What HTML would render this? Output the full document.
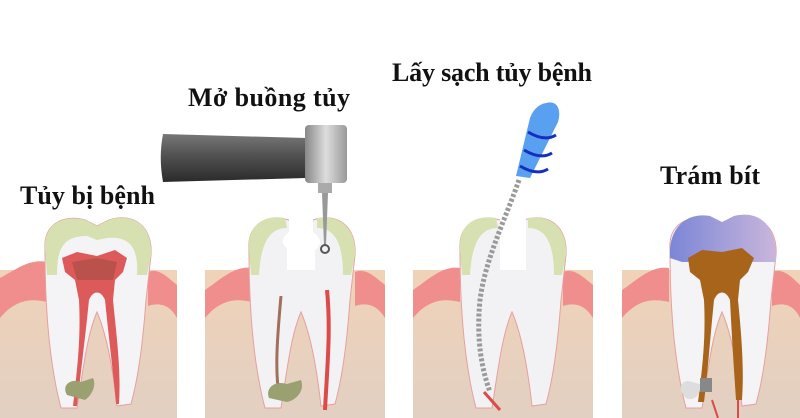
<!DOCTYPE html>
<html><head><meta charset="utf-8"><style>
html,body{margin:0;padding:0;background:#fff;width:800px;height:418px;overflow:hidden}
svg{display:block}
text{font-family:"Liberation Serif",serif;font-weight:bold;fill:#111}
</style></head><body>
<svg width="800" height="418" viewBox="0 0 800 418">
<defs>
<linearGradient id="tan" x1="0" y1="0" x2="0" y2="1"><stop offset="0" stop-color="#f0d2b8"/><stop offset="1" stop-color="#e2d0c2"/></linearGradient>
<linearGradient id="bar" x1="0" y1="0" x2="0" y2="1"><stop offset="0" stop-color="#777"/><stop offset="0.4" stop-color="#555"/><stop offset="1" stop-color="#2a2a2a"/></linearGradient>
<linearGradient id="head" x1="0" y1="0" x2="1" y2="0"><stop offset="0" stop-color="#888"/><stop offset="0.5" stop-color="#ddd"/><stop offset="1" stop-color="#999"/></linearGradient>
<linearGradient id="cap" x1="0" y1="0" x2="1" y2="0"><stop offset="0" stop-color="#7b86d6"/><stop offset="1" stop-color="#c9b6dc"/></linearGradient>
<path id="toothOuter" d="M-52,250 C-54,224 -34,214 -12,220 L0,226 L12,220 C36,212 56,226 54,255 L49,300 C46,340 42,375 34,404 L20,406 C16,370 10,335 0,312 C-10,335 -14,370 -20,408 L-36,408 C-46,370 -52,320 -52,250Z"/>
</defs>

<g transform="translate(0,0)"><rect x="0" y="270" width="177" height="148" fill="url(#tan)"/><path d="M0,278 C15,270 30,258 47,262 L47,302 C30,298 15,300 0,318Z" fill="#f08e8e"/><path d="M177,285 C165,275 158,268 148,272 L148,306 C160,302 170,305 177,318Z" fill="#f08e8e"/></g>
<g transform="translate(205,0)"><rect x="0" y="270" width="180" height="148" fill="url(#tan)"/><path d="M0,290 C15,280 30,265 47,268 L47,302 C30,298 15,300 0,318Z" fill="#f08e8e"/><path d="M180,285 C168,275 160,268 150,272 L150,306 C162,302 172,305 180,318Z" fill="#f08e8e"/></g>
<g transform="translate(413,0)"><rect x="0" y="270" width="180" height="148" fill="url(#tan)"/><path d="M0,290 C15,280 30,265 47,268 L47,302 C30,298 15,300 0,318Z" fill="#f08e8e"/><path d="M180,285 C168,275 160,268 150,272 L150,306 C162,302 172,305 180,318Z" fill="#f08e8e"/></g>
<g transform="translate(622,0)"><rect x="0" y="270" width="178" height="148" fill="url(#tan)"/><path d="M0,290 C15,280 30,265 47,268 L47,302 C30,298 15,300 0,318Z" fill="#f08e8e"/><path d="M178,285 C168,275 160,268 150,272 L150,306 C162,302 172,305 178,318Z" fill="#f08e8e"/></g>

<!-- tooth 1 -->
<g transform="translate(97,0)">
<use href="#toothOuter" fill="#f4f4f6" stroke="#e6a0a0" stroke-width="1"/>
<path d="M-52,250 C-54,224 -34,214 -12,220 L0,226 L12,220 C36,212 56,226 54,255 L50,275 L40,275 C42,245 30,236 10,238 L0,240 L-10,236 C-35,236 -40,250 -40,275 L-50,275Z" fill="#d6e0b0"/>
<path d="M-35,258 L-20,252 L0,256 L18,250 L30,258 L26,272 L18,280 L16,300 C20,340 24,370 22,404 L19,404 C16,370 12,340 8,300 C4,290 -4,290 -8,300 C-12,340 -16,370 -20,406 L-24,406 C-20,370 -16,340 -18,300 L-22,280 L-32,272Z" fill="#dd5a5a"/>
<path d="M-25,262 L0,258 L20,262 L16,280 L-20,280Z" fill="#b9524a"/>
<path d="M-30,395 C-36,385 -26,378 -16,382 L-4,378 C0,386 -6,396 -12,400Z" fill="#9aa070"/>
</g>

<!-- tooth 2 -->
<g transform="translate(301,0)">
<use href="#toothOuter" fill="#f2f2f5" stroke="#e6a0a0" stroke-width="1"/>
<path d="M-12,216 L-12,232 C-20,238 -20,244 -14,248 L-14,270 L14,270 L14,250 C22,244 20,238 12,232 L12,216Z" fill="#fff"/>
<path d="M-52,250 C-54,226 -38,214 -16,218 L-14,228 C-30,228 -40,240 -42,275 L-50,275Z" fill="#d6e0b0"/>
<path d="M54,255 C56,228 38,214 16,218 L16,228 C32,228 42,240 42,275 L50,275Z" fill="#d6e0b0"/>
<path d="M-20,296 C-24,340 -26,370 -22,395" stroke="#a0705a" stroke-width="3" fill="none"/>
<path d="M26,290 C30,330 26,370 24,410" stroke="#dd4a4a" stroke-width="4" fill="none"/>
<path d="M-32,398 C-36,388 -26,380 -14,384 L0,380 C4,390 -4,400 -14,402Z" fill="#9aa070"/>
</g>
<path d="M163,134 L306,138 L306,178 L163,182 C160,165 160,150 163,134Z" fill="url(#bar)"/>
<rect x="305" y="125" width="42" height="58" rx="4" fill="url(#head)"/>
<rect x="318" y="183" width="14" height="10" fill="#aaa"/>
<path d="M322,193 L328,193 L326,245 L324,245Z" fill="#999"/>
<circle cx="325" cy="249" r="4" fill="none" stroke="#555" stroke-width="2"/>

<!-- tooth 3 -->
<g transform="translate(512,0)">
<use href="#toothOuter" fill="#f2f2f5" stroke="#e6a0a0" stroke-width="1"/>
<path d="M-12,216 L-12,270 L14,270 L14,216Z" fill="#fff"/>
<path d="M-52,250 C-54,226 -38,214 -16,218 L-14,228 C-30,228 -40,240 -42,275 L-50,275Z" fill="#d6e0b0"/>
<path d="M54,255 C56,228 38,214 16,218 L16,228 C32,228 42,240 42,275 L50,275Z" fill="#d6e0b0"/>
<path d="M-28,392 L-12,410" stroke="#dd4a4a" stroke-width="3"/>
</g>
<path d="M519,180 C505,220 485,260 480,300 C476,340 482,370 490,392" stroke="#9a9a9a" stroke-width="5" fill="none" stroke-dasharray="3 2"/>
<path d="M546,103 C556,100 562,108 558,122 L530,178 L516,176 L530,118 C534,108 540,104 546,103Z" fill="#5aa0f0"/>
<path d="M528,132 C538,138 548,140 556,135 M524,150 C534,156 544,158 552,153 M520,166 C530,172 540,174 548,169" stroke="#1530c0" stroke-width="3" fill="none"/>

<!-- tooth 4 -->
<g transform="translate(722,0)">
<use href="#toothOuter" fill="#f4f4f6" stroke="#e6a0a0" stroke-width="1"/>
<path d="M-52,258 C-54,226 -34,212 -12,216 L0,222 L12,216 C36,210 56,224 54,262 L40,262 L-40,262Z" fill="url(#cap)"/>
<path d="M-34,258 L-20,250 L0,252 L20,248 L32,258 L26,272 L18,280 L16,300 C20,340 22,370 20,400 L14,400 C12,370 10,340 8,300 C4,290 -4,290 -8,300 C-12,340 -14,370 -18,402 L-24,402 C-20,370 -16,340 -18,300 L-22,280 L-32,272Z" fill="#a8641a"/>
<path d="M-36,398 C-46,388 -40,378 -30,382 L-22,384 C-20,394 -28,402 -36,398Z" fill="#ddd"/>
<rect x="-22" y="378" width="12" height="14" fill="#888"/>
<path d="M-10,400 L-4,418 M16,400 L16,418" stroke="#dd4a4a" stroke-width="2"/>
</g>

<text x="20" y="204" font-size="26" textLength="135">Tủy bị bệnh</text>
<text x="188" y="106" font-size="26" textLength="162">Mở buồng tủy</text>
<text x="392" y="81" font-size="26" textLength="200">Lấy sạch tủy bệnh</text>
<text x="660" y="184" font-size="26" textLength="100">Trám bít</text>
</svg>
</body></html>
